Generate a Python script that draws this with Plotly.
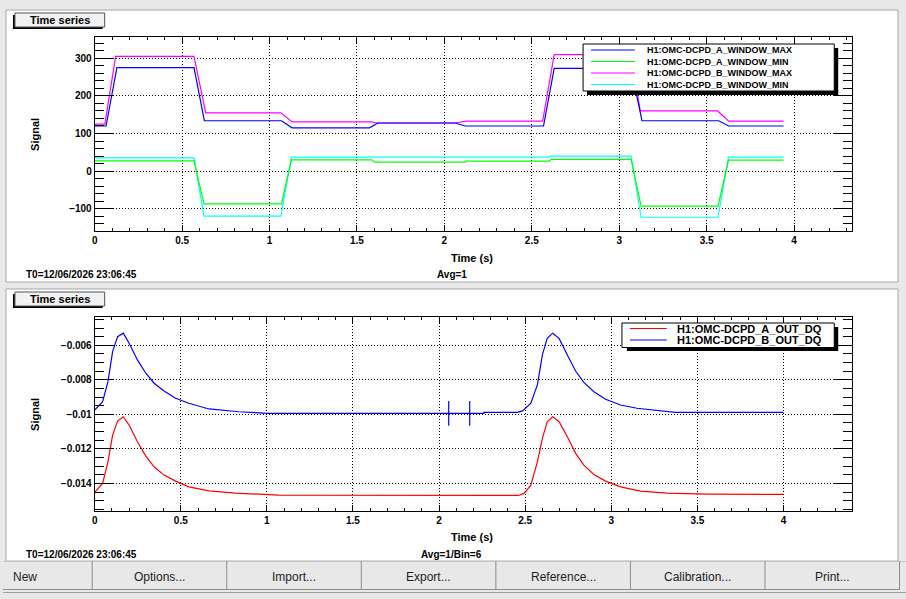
import plotly.graph_objects as go

W, H = 906, 599
FONT = "Liberation Sans, Arial, sans-serif"

# ---- top pad: window max/min channels (time in s)
t_a_max = [0, 0.065, 0.127, 0.568, 0.627, 1.068, 1.129, 1.572, 1.619, 2.06, 2.12,
           2.567, 2.628, 3.068, 3.13, 3.569, 3.626, 3.94]
a_max = [120, 120, 275, 275, 134, 134, 115, 115, 128, 128, 120,
         120, 273, 273, 134, 134, 120, 120]

t_a_min = [0, 0.568, 0.625, 1.068, 1.125, 1.585, 1.6, 2.12, 2.125, 2.6, 2.61,
           3.068, 3.125, 3.565, 3.625, 3.94]
a_min = [27, 27, -87, -87, 30, 30, 24, 24, 26.7, 26.7, 31,
         31, -93, -93, 29, 29]

t_b_max = [0, 0.058, 0.12, 0.568, 0.635, 1.065, 1.13, 1.58, 1.615, 2.06, 2.125,
           2.562, 2.628, 3.068, 3.12, 3.563, 3.626, 3.94]
b_max = [125, 125, 305, 305, 155, 155, 131, 131, 128, 128, 133,
         133, 310, 310, 160, 160, 133, 133]

t_b_min = [0, 0.568, 0.625, 1.065, 1.125, 2.6, 2.605, 3.068, 3.125, 3.565, 3.625, 3.94]
b_min = [35, 35, -120, -120, 37, 37, 40, 40, -122.7, -122.7, 37, 37]

top_names = ["H1:OMC-DCPD_A_WINDOW_MAX", "H1:OMC-DCPD_A_WINDOW_MIN",
             "H1:OMC-DCPD_B_WINDOW_MAX", "H1:OMC-DCPD_B_WINDOW_MIN"]
top_colors = ["#0000ff", "#00ff00", "#ff00ff", "#00ffff"]

# ---- bottom pad: OUT_DQ channels
t_a_out = [0, 0.046, 0.077, 0.104, 0.133, 0.166, 0.2, 0.248, 0.297, 0.345, 0.403,
           0.47, 0.547, 0.664, 0.817, 1.07, 2.46, 2.494, 2.533, 2.571, 2.6, 2.628,
           2.66, 2.697, 2.745, 2.793, 2.841, 2.899, 2.967, 3.054, 3.17, 3.324, 3.56, 4.0]
a_out = [-0.01452, -0.0140, -0.01275, -0.0112, -0.01039, -0.01014, -0.01062, -0.01159,
         -0.01242, -0.01304, -0.01352, -0.01387, -0.0142, -0.01443, -0.01456, -0.01468,
         -0.0147, -0.01458, -0.0141, -0.01275, -0.01139, -0.01043, -0.01014, -0.01043,
         -0.0113, -0.01226, -0.01294, -0.01348, -0.01387, -0.0142, -0.01445, -0.01456,
         -0.01462, -0.01464]

t_b_out = [0, 0.046, 0.077, 0.104, 0.133, 0.166, 0.2, 0.248, 0.297, 0.345, 0.403,
           0.47, 0.547, 0.664, 0.837, 1.01, 2.056, 2.056, 2.056, 2.056, 2.178, 2.178,
           2.178, 2.178, 2.26, 2.26, 2.455, 2.485, 2.533, 2.571, 2.6, 2.628, 2.66,
           2.697, 2.745, 2.793, 2.841, 2.899, 2.967, 3.054, 3.15, 3.266, 3.372, 4.0]
b_out = [-0.00975, -0.00927, -0.00811, -0.00637, -0.0055, -0.0053, -0.00588, -0.00685,
         -0.00762, -0.0082, -0.00865, -0.00907, -0.00936, -0.00969, -0.00985, -0.00994,
         -0.00995, -0.00923, -0.01066, -0.00995, -0.00995, -0.00923, -0.01066, -0.00995,
         -0.00995, -0.00989, -0.00989, -0.0098, -0.00936, -0.0083, -0.00656, -0.0056,
         -0.0053, -0.0056, -0.00656, -0.00749, -0.00815, -0.00869, -0.00913, -0.00946,
         -0.00965, -0.00979, -0.00989, -0.00989]

bot_names = ["H1:OMC-DCPD_A_OUT_DQ", "H1:OMC-DCPD_B_OUT_DQ"]
bot_colors = ["#ff0000", "#0000ff"]

bot_tickvals = [-0.014, -0.012, -0.01, -0.008, -0.006]
bot_ticktext = ["\u22120.014", "\u22120.012", "\u22120.01", "\u22120.008", "\u22120.006"]

buttons = ["New", "Options...", "Import...", "Export...", "Reference...", "Calibration...", "Print..."]


def px(x):
    return x / W


def py(y):
    return 1 - y / H


fig = go.Figure()

# reverse order so the A_MAX trace ends up on top, like the original
top_series = [(t_a_max, a_max), (t_a_min, a_min), (t_b_max, b_max), (t_b_min, b_min)]
for i in [3, 2, 1, 0]:
    t, v = top_series[i]
    fig.add_trace(go.Scatter(x=t, y=v, mode="lines", name=top_names[i],
                             line=dict(color=top_colors[i], width=1.2),
                             xaxis="x", yaxis="y", showlegend=False))

bot_series = [(t_a_out, a_out), (t_b_out, b_out)]
for i in [0, 1]:
    t, v = bot_series[i]
    fig.add_trace(go.Scatter(x=t, y=v, mode="lines", name=bot_names[i],
                             line=dict(color=bot_colors[i], width=1.2),
                             xaxis="x2", yaxis="y2", showlegend=False))

tickfont = dict(family=FONT, size=10, color="black", weight="bold")
common = dict(showline=True, linecolor="black", linewidth=1, mirror="ticks",
              ticks="inside", tickcolor="black", tickwidth=1,
              showgrid=True, gridcolor="black", griddash="1px,2px", gridwidth=1,
              zeroline=False, tickfont=tickfont, fixedrange=True)

x_dom = [px(92), px(852.3)]
fig.update_layout(
    width=W, height=H,
    margin=dict(l=0, r=0, t=0, b=0),
    paper_bgcolor="#e8e8e8",
    plot_bgcolor="white",
    font=dict(family=FONT, color="black"),
    xaxis=dict(domain=x_dom, range=[0, 4.334], tickmode="linear", tick0=0, dtick=0.5,
               ticklen=6, anchor="y",
               minor=dict(tick0=0, dtick=0.1, ticklen=3, ticks="inside",
                          tickcolor="black", showgrid=False), **common),
    yaxis=dict(domain=[py(231), py(37.3)], range=[-159.3, 355.9], tickmode="linear",
               tick0=0, dtick=100, ticklen=19, anchor="x",
               minor=dict(tick0=0, dtick=20, ticklen=9, ticks="inside",
                          tickcolor="black", showgrid=False), **common),
    xaxis2=dict(domain=x_dom, range=[0, 4.401], tickmode="linear", tick0=0, dtick=0.5,
                ticklen=6, anchor="y2",
                minor=dict(tick0=0, dtick=0.1, ticklen=3, ticks="inside",
                           tickcolor="black", showgrid=False), **common),
    yaxis2=dict(domain=[py(511), py(317.3)], range=[-0.0156, -0.00438], tickmode="array",
                tickvals=bot_tickvals, ticktext=bot_ticktext, ticklen=19, anchor="x2",
                minor=dict(tick0=0, dtick=0.0005, ticklen=9, ticks="inside",
                           tickcolor="black", showgrid=False), **common),
)

shapes = []
ann = []


def rect(x0, y0, x1, y1, fill, line=None, lw=1, layer="below"):
    shapes.append(dict(type="rect", xref="paper", yref="paper",
                       x0=px(x0), x1=px(x1), y0=py(y1), y1=py(y0),
                       fillcolor=fill, layer=layer,
                       line=dict(color=line or fill, width=lw if line else 0)))


def hline(x0, x1, y, color, lw=1, layer="above"):
    shapes.append(dict(type="line", xref="paper", yref="paper",
                       x0=px(x0), x1=px(x1), y0=py(y), y1=py(y), layer=layer,
                       line=dict(color=color, width=lw)))


def vline(x, y0, y1, color, lw=1, layer="above"):
    shapes.append(dict(type="line", xref="paper", yref="paper",
                       x0=px(x), x1=px(x), y0=py(y0), y1=py(y1), layer=layer,
                       line=dict(color=color, width=lw)))


def text(x, y, s, size=10, anchor="center", bold=True, angle=0, color="black"):
    ann.append(dict(x=px(x), y=py(y), xref="paper", yref="paper", text=s,
                    showarrow=False, xanchor=anchor, yanchor="middle", textangle=angle,
                    font=dict(family=FONT, size=size, color=color,
                              weight="bold" if bold else "normal")))


# panels
for top, bot in [(10, 282), (289, 561)]:
    rect(3, top, 898, bot, "white", "#a8a8a8")
    # "Time series" tab with drop shadow
    rect(10, top + 5, 100, top + 19, "black")
    rect(12, top + 3, 102, top + 17, "#f2f2f2", "#555555")

text(57, 20, "Time series", size=11)
text(57, 299, "Time series", size=11)

# axis titles and footers
text(32, 134, "Signal", size=11, angle=-90)
text(32, 414, "Signal", size=11, angle=-90)
text(471, 258, "Time (s)", size=11)
text(471, 537, "Time (s)", size=11)
text(21, 275, "T0=12/06/2026 23:06:45", size=10, anchor="left")
text(21, 554, "T0=12/06/2026 23:06:45", size=10, anchor="left")
text(450, 275, "Avg=1", size=10)
text(450, 554, "Avg=1/Bin=6", size=10)

# top legend
rect(586, 48, 838, 95, "black", layer="above")
rect(582, 44, 834, 91, "white", "black", layer="above")
for i, yy in enumerate([50, 61.5, 73, 84.5]):
    hline(590, 634, yy, top_colors[i])
    text(644, yy, top_names[i], size=9, anchor="left")

# bottom legend
rect(626, 327, 838, 351, "black", layer="above")
rect(621, 323, 834, 347.5, "white", "black", layer="above")
for i, yy in enumerate([328.5, 340]):
    hline(629, 666, yy, bot_colors[i])
    text(674, yy, bot_names[i], size=11, anchor="left")

# button bar
rect(0, 561, 906, 589, "#e8e8e8")
hline(0, 906, 561.5, "#c8c8c8", layer="below")
hline(0, 900, 589.5, "#8c8c8c", layer="below")
hline(0, 906, 592.5, "#a0a0a0", layer="below")
edges = [89.5, 224.5, 359.5, 494.5, 629.5, 764.5, 899.5]
for e in edges:
    vline(e, 561, 589.5, "#8c8c8c", layer="below")
centers = [22.5, 157, 292, 427, 562, 697, 832]
for c, label in zip(centers, buttons):
    text(c, 577, label, size=12, bold=False, color="#1e1e1e")

fig.update_layout(shapes=shapes, annotations=ann)
# page has a default 8px body margin; drop it so the figure sits at the window origin
fig.write_html("out.html", config={"displayModeBar": False},
               post_script="document.body.style.margin='0px';")
